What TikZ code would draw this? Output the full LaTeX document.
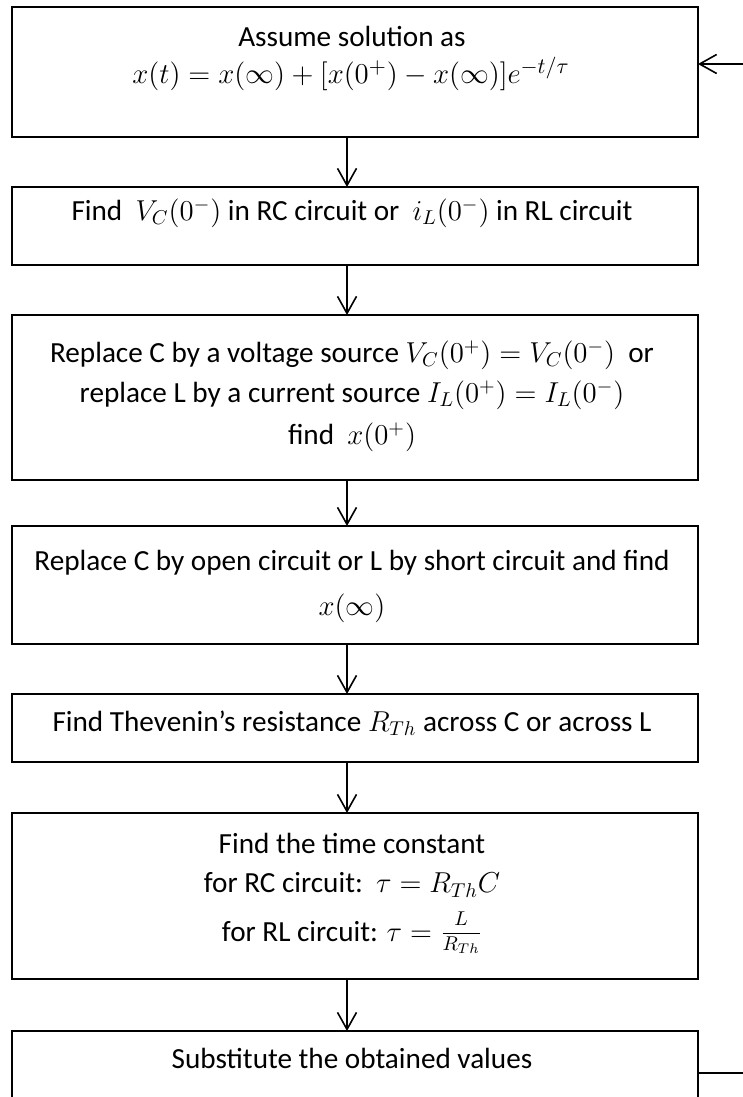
\documentclass[tikz,border=0pt]{standalone}
\usepackage{amsmath}
\usepackage{fontspec}
\setmainfont{Carlito}
\usetikzlibrary{arrows.meta}
\begin{document}
\begin{tikzpicture}[x=0.5pt,y=-0.5pt,
  box/.style={draw,line width=1pt,minimum width=343pt,inner sep=0pt,outer sep=0pt},
  txt/.style={inner sep=0pt,font=\fontsize{14.6pt}{20pt}\selectfont},
  arr/.style={line width=0.8pt,-{Straight Barb[length=8.5pt,width=9.5pt,line width=0.8pt]}}]
\useasboundingbox (0,0) rectangle (743,1097);
\clip (0,0) rectangle (743,1097);
\node[box,minimum height=65pt] (b1) at (355,72) {};
\node[box,minimum height=39pt] (b2) at (355,226) {};
\node[box,minimum height=82.5pt] (b3) at (355,397.5) {};
\node[box,minimum height=59pt] (b4) at (355,585) {};
\node[box,minimum height=34pt] (b5) at (355,728) {};
\node[box,minimum height=83pt] (b6) at (355,896) {};
\node[box,minimum height=50pt] (b7) at (355,1081) {};
% texts
\node[txt] (t1a) at (352,36) {Assume solution as};
\node[txt,font=\fontsize{15pt}{20pt}\selectfont] (t1b) at (351,74) {$x(t)=x(\infty)+[x(0^{+})-x(\infty)]e^{-t/\tau}$};
\node[txt] (t2) at (352,213) {Find\ \ $V_C(0^{-})$ in RC circuit or\ \ $i_L(0^{-})$ in RL circuit};
\node[txt] (t3a) at (352,355) {Replace C by a voltage source $V_C(0^{+})=V_C(0^{-})$\ \ or};
\node[txt] (t3b) at (352,395) {replace L by a current source $I_L(0^{+})=I_L(0^{-})$};
\node[txt] (t3c) at (352,437) {find\ \ $x(0^{+})$};
\node[txt] (t4a) at (352,563) {Replace C by open circuit or L by short circuit and find};
\node[txt] (t4b) at (352,608) {$x(\infty)$};
\node[txt] (t5) at (352,723) {Find Thevenin’s resistance $R_{Th}$ across C or across L};
\node[txt] (t6a) at (352,843) {Find the time constant};
\node[txt] (t6b) at (352,885) {for RC circuit:\ \ $\tau=R_{Th}C$};
\node[txt] (t6c) at (352,933) {for RL circuit: $\tau=\genfrac{}{}{0.4pt}{1}{\raisebox{2pt}{$\scriptstyle L$}}{R_{Th}}$};
\node[txt] (t7) at (352,1058) {Substitute the obtained values};
% arrows
\draw[arr] ([xshift=-4pt]b1.south) -- ([xshift=-4pt]b2.north);
\draw[arr] ([xshift=-4pt]b2.south) -- ([xshift=-4pt]b3.north);
\draw[arr] ([xshift=-4pt]b3.south) -- ([xshift=-4pt]b4.north);
\draw[arr] ([xshift=-4pt]b4.south) -- ([xshift=-4pt]b5.north);
\draw[arr] ([xshift=-4pt]b5.south) -- ([xshift=-4pt]b6.north);
\draw[arr] ([xshift=-4pt]b6.south) -- ([xshift=-4pt]b7.north);
\coordinate (fb) at (800,1073);
\draw[arr] ([yshift=4pt]b7.east) -- (fb) |- ([yshift=4pt]b1.east);
\end{tikzpicture}
\end{document}
